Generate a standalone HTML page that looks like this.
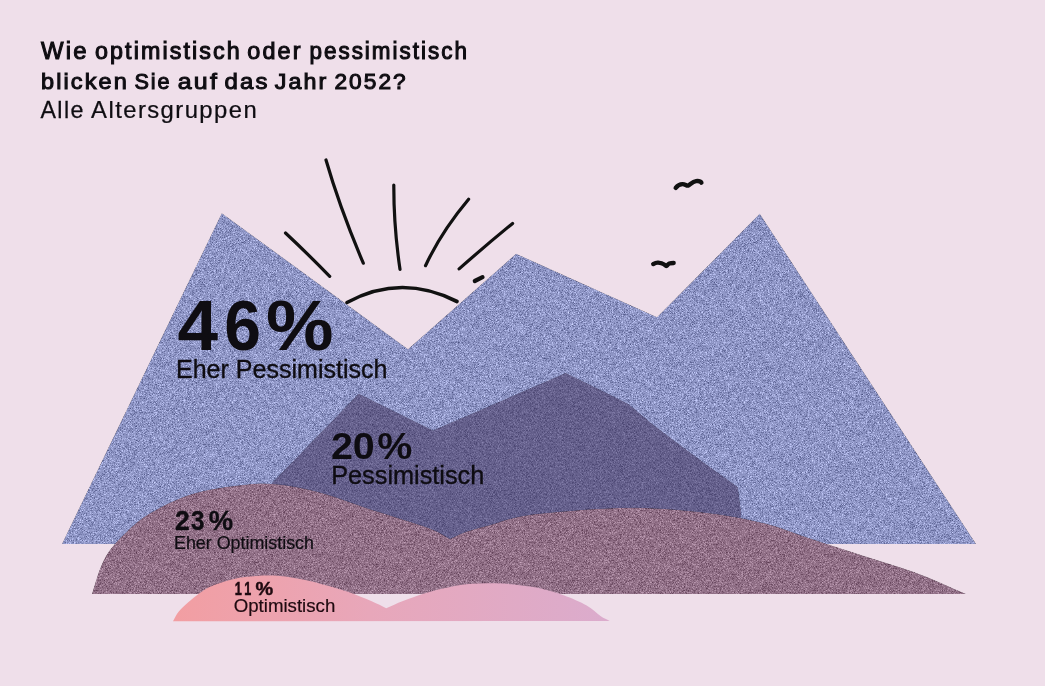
<!DOCTYPE html>
<html><head><meta charset="utf-8">
<style>
html,body{margin:0;padding:0;background:#efdfea;width:1045px;height:686px;overflow:hidden;}
svg{display:block;position:absolute;left:0;top:0;}
text{font-family:"Liberation Sans",sans-serif;}
</style></head>
<body>
<svg width="1045" height="686" viewBox="0 0 1045 686">
<defs>
<filter id="nz" x="0" y="0" width="1045" height="686" filterUnits="userSpaceOnUse" color-interpolation-filters="sRGB">
<feTurbulence type="fractalNoise" baseFrequency="2.5" numOctaves="1" seed="7" result="t0"/>
<feGaussianBlur in="t0" stdDeviation="0.6" result="t"/>
<feColorMatrix in="t" type="matrix" values="1 0 0 0 0  1 0 0 0 0  1 0 0 0 0  0 0 0 0 1" result="g"/>
<feComposite in="SourceGraphic" in2="g" operator="arithmetic" k1="0" k2="1" k3="0.8" k4="-0.4" result="c"/>
<feComposite in="c" in2="SourceAlpha" operator="in"/>
</filter>
<filter id="nz2" x="0" y="0" width="1045" height="686" filterUnits="userSpaceOnUse" color-interpolation-filters="sRGB">
<feTurbulence type="fractalNoise" baseFrequency="2.5" numOctaves="1" seed="11" result="t0"/>
<feGaussianBlur in="t0" stdDeviation="0.7" result="t"/>
<feColorMatrix in="t" type="matrix" values="1 0 0 0 0  1 0 0 0 0  1 0 0 0 0  0 0 0 0 1" result="g"/>
<feComposite in="SourceGraphic" in2="g" operator="arithmetic" k1="0" k2="1" k3="0.4" k4="-0.2" result="c"/>
<feComposite in="c" in2="SourceAlpha" operator="in"/>
</filter>
<filter id="nz3" x="0" y="0" width="1045" height="686" filterUnits="userSpaceOnUse" color-interpolation-filters="sRGB">
<feTurbulence type="fractalNoise" baseFrequency="2.5" numOctaves="1" seed="5" result="t0"/>
<feGaussianBlur in="t0" stdDeviation="0.7" result="t"/>
<feColorMatrix in="t" type="matrix" values="1 0 0 0 0  1 0 0 0 0  1 0 0 0 0  0 0 0 0 1" result="g"/>
<feComposite in="SourceGraphic" in2="g" operator="arithmetic" k1="0" k2="1" k3="0.65" k4="-0.325" result="c"/>
<feComposite in="c" in2="SourceAlpha" operator="in"/>
</filter>
<linearGradient id="pk" x1="173" y1="0" x2="610" y2="0" gradientUnits="userSpaceOnUse">
<stop offset="0" stop-color="#f29ea2"/>
<stop offset="0.45" stop-color="#e8a7ba"/>
<stop offset="1" stop-color="#dbaccd"/>
</linearGradient>
</defs>
<rect width="1045" height="686" fill="#efdfea"/>

<!-- sun -->
<g fill="none" stroke="#111" stroke-width="3.2" stroke-linecap="round" stroke-linejoin="round">
<path d="M347 302.5 Q401 273 457 301.5" stroke-width="3.7"/>
<path d="M285.5 233 Q308 254 329.7 276.4"/>
<path d="M326 160 Q339.8 207.8 363.3 263.2"/>
<path d="M393.8 185 Q393.7 226.8 400 269.3"/>
<path d="M468.6 199.3 Q441.4 231.7 425.5 265.7"/>
<path d="M512.6 223.4 Q485 246 459.1 268.9"/>
<path d="M474.8 281 L482.5 277.2" stroke-width="4.2"/>
</g>

<!-- blue mountain -->
<polygon points="62,544 221.8,213.2 408,349.2 516.1,253.8 657,317.2 759.8,213.8 976,544" fill="#8e95c5" filter="url(#nz)"/>
<!-- dark purple mountain -->
<polygon points="272,483 358.7,393.8 433,430.6 565.8,372.9 600,389.8 628.4,404 654.6,425.9 698.4,458.7 737.7,487.1 741,511 741,540 272,540" fill="#65608c" filter="url(#nz2)"/>
<!-- mauve hill -->
<path d="M92.0 594.0 C94.5 586.2 96.6 577.8 99.4 570.7 C102.2 563.6 104.5 558.0 108.9 551.6 C113.4 545.2 119.2 538.8 126.1 532.4 C133.0 526.0 139.1 519.7 150.1 513.3 C161.1 506.9 177.5 498.7 192.2 494.1 C206.9 489.5 224.2 487.1 238.1 485.5 C252.0 483.9 261.9 482.9 275.9 484.2 C289.9 485.4 306.6 488.9 321.9 493.0 C337.2 497.1 352.5 503.5 367.8 508.5 C383.1 513.5 402.8 519.4 413.7 523.0 C424.6 526.6 427.3 527.4 433.4 530.1 C439.4 532.8 444.5 536.0 450.0 539.0 C455.6 536.5 459.5 534.0 466.8 531.5 C474.1 529.0 484.7 526.5 493.6 524.0 C502.5 521.5 509.3 518.4 520.4 516.4 C531.5 514.4 546.4 513.1 560.0 511.8 C573.6 510.5 588.1 509.3 602.1 508.7 C616.1 508.1 630.2 507.6 644.2 508.0 C658.2 508.4 672.3 509.5 686.3 510.8 C700.3 512.1 714.4 513.6 728.4 516.0 C742.4 518.4 757.4 521.4 770.5 525.0 C783.6 528.6 792.2 532.5 807.2 537.5 C822.2 542.5 842.9 549.1 860.8 554.9 C878.7 560.7 896.9 565.8 914.4 572.3 C931.9 578.8 948.8 586.8 966.0 594.0 Z" fill="#917087" filter="url(#nz3)"/>
<!-- pink hill -->
<path d="M173.0 621.3 C174.9 618.1 176.3 614.7 178.8 611.6 C181.3 608.5 184.6 605.5 188.0 602.5 C191.4 599.5 195.7 596.0 199.5 593.3 C203.3 590.6 205.2 588.8 210.9 586.4 C216.6 584.0 226.2 580.7 233.9 579.0 C241.6 577.3 249.2 576.5 256.9 576.0 C264.5 575.5 272.1 575.4 279.8 576.0 C287.5 576.6 295.1 578.0 302.8 579.5 C310.5 581.0 318.2 583.1 325.8 585.2 C333.4 587.3 341.1 589.3 348.7 592.0 C356.3 594.7 365.4 598.6 371.7 601.3 C377.9 604.0 381.4 605.9 386.2 608.2 C391.8 605.8 396.4 603.5 403.0 601.0 C409.6 598.5 418.2 595.3 425.9 593.0 C433.5 590.7 441.2 588.7 448.9 587.2 C456.6 585.7 464.2 584.4 471.9 583.8 C479.5 583.1 487.2 583.1 494.8 583.3 C502.4 583.5 510.1 584.0 517.8 584.9 C525.5 585.8 533.1 586.7 540.8 588.4 C548.4 590.1 556.1 592.4 563.7 595.3 C571.4 598.2 580.6 602.1 586.7 605.6 C592.8 609.1 596.7 613.4 600.5 616.0 C604.3 618.6 606.6 619.3 609.7 621.0 Z" fill="url(#pk)"/>

<!-- birds -->
<g fill="none" stroke="#111" stroke-linecap="round" stroke-linejoin="round">
<path d="M675.7 187.8 C677.5 185.5 679.5 184.2 682.5 184.1 C685 184 686.5 186 688 185.6 C690 184.8 692.5 181.5 696 181.1 C699 180.8 700.8 181.6 701.4 182.6" stroke-width="4.4"/>
<path d="M653.2 264.1 C655 263 656.5 262.5 658.1 262.6 C660.5 262.7 662.5 263.2 664 264.4 C665 265.2 665.8 266 666.3 266 C667 265.8 668 264.2 669.4 263.6 C671 263 672.5 263 673.7 263" stroke-width="4.3"/>
</g>

<g style="opacity:0.999">
<text x="50" y="200" font-size="100" font-weight="normal" letter-spacing="9" fill="#0f0d12" stroke="#0f0d12" stroke-width="4.477" transform="matrix(0.23892 0 0 0.23014 29.115 13.273)">Wie</text>
<text x="50" y="200" font-size="100" font-weight="normal" letter-spacing="9" fill="#0f0d12" stroke="#0f0d12" stroke-width="4.537" transform="matrix(0.23273 0 0 0.23014 83.432 13.273)">optimistisch</text>
<text x="50" y="200" font-size="100" font-weight="normal" letter-spacing="9" fill="#0f0d12" stroke="#0f0d12" stroke-width="4.525" transform="matrix(0.23394 0 0 0.23014 235.667 13.273)">oder</text>
<text x="50" y="200" font-size="100" font-weight="normal" letter-spacing="9" fill="#0f0d12" stroke="#0f0d12" stroke-width="4.622" transform="matrix(0.22424 0 0 0.23014 298.218 13.273)">pessimistisch</text>
<text x="50" y="200" font-size="100" font-weight="normal" letter-spacing="9" fill="#0f0d12" stroke="#0f0d12" stroke-width="4.566" transform="matrix(0.23523 0 0 0.22466 29.192 43.868)">blicken</text>
<text x="50" y="200" font-size="100" font-weight="normal" letter-spacing="9" fill="#0f0d12" stroke="#0f0d12" stroke-width="4.762" transform="matrix(0.21634 0 0 0.22466 123.601 43.868)">Sie</text>
<text x="50" y="200" font-size="100" font-weight="normal" letter-spacing="9" fill="#0f0d12" stroke="#0f0d12" stroke-width="4.427" transform="matrix(0.24967 0 0 0.22466 165.218 43.868)">auf</text>
<text x="50" y="200" font-size="100" font-weight="normal" letter-spacing="9" fill="#0f0d12" stroke="#0f0d12" stroke-width="4.524" transform="matrix(0.23953 0 0 0.22466 212.565 43.868)">das</text>
<text x="50" y="200" font-size="100" font-weight="normal" letter-spacing="9" fill="#0f0d12" stroke="#0f0d12" stroke-width="4.593" transform="matrix(0.23257 0 0 0.22466 263.206 43.868)">Jahr</text>
<text x="50" y="200" font-size="100" font-weight="normal" letter-spacing="9" fill="#0f0d12" stroke="#0f0d12" stroke-width="4.651" transform="matrix(0.22689 0 0 0.22466 323.121 43.868)">2052?</text>
<text x="50" y="200" font-size="100" font-weight="normal" letter-spacing="6" fill="#0f0d12" stroke="#0f0d12" stroke-width="1.063" transform="matrix(0.23222 0 0 0.23836 28.889 70.629)">Alle</text>
<text x="50" y="200" font-size="100" font-weight="normal" letter-spacing="6" fill="#0f0d12" stroke="#0f0d12" stroke-width="1.048" transform="matrix(0.23852 0 0 0.23836 79.174 70.629)">Altersgruppen</text>
<text x="50" y="200" font-size="100" font-weight="bold" fill="#0f0d12" transform="matrix(0.73019 0 0 0.71014 140.930 208.271)">4</text>
<text x="50" y="200" font-size="100" font-weight="bold" fill="#0f0d12" transform="matrix(0.66042 0 0 0.71014 191.338 208.271)">6</text>
<text x="50" y="200" font-size="100" font-weight="bold" fill="#0f0d12" transform="matrix(0.76024 0 0 0.71014 227.907 208.271)">%</text>
<text x="50" y="200" font-size="100" font-weight="normal" fill="#0f0d12" stroke="#0f0d12" stroke-width="1.382" transform="matrix(0.25048 0 0 0.25616 163.472 327.267)">Eher Pessimistisch</text>
<text x="50" y="200" font-size="100" font-weight="bold" fill="#0f0d12" transform="matrix(0.39592 0 0 0.37391 311.316 384.217)">2</text>
<text x="50" y="200" font-size="100" font-weight="bold" fill="#0f0d12" transform="matrix(0.39362 0 0 0.37391 333.045 384.217)">0</text>
<text x="50" y="200" font-size="100" font-weight="bold" fill="#0f0d12" transform="matrix(0.39398 0 0 0.37391 357.519 384.217)">%</text>
<text x="50" y="200" font-size="100" font-weight="normal" fill="#0f0d12" stroke="#0f0d12" stroke-width="1.394" transform="matrix(0.25271 0 0 0.24932 318.593 434.337)">Pessimistisch</text>
<text x="50" y="200" font-size="100" font-weight="bold" fill="#0f0d12" stroke="#0f0d12" stroke-width="1.117" transform="matrix(0.26633 0 0 0.27101 161.585 475.897)">2</text>
<text x="50" y="200" font-size="100" font-weight="bold" fill="#0f0d12" stroke="#0f0d12" stroke-width="1.170" transform="matrix(0.24200 0 0 0.27101 178.816 475.897)">3</text>
<text x="50" y="200" font-size="100" font-weight="bold" fill="#0f0d12" stroke="#0f0d12" stroke-width="1.099" transform="matrix(0.27470 0 0 0.27101 194.941 475.897)">%</text>
<text x="50" y="200" font-size="100" font-weight="normal" fill="#0f0d12" stroke="#0f0d12" stroke-width="1.112" transform="matrix(0.17880 0 0 0.18082 165.029 513.236)">Eher Optimistisch</text>
<text x="50" y="200" font-size="100" font-weight="bold" fill="#1f0a10" stroke="#1f0a10" stroke-width="2.822" transform="matrix(0.12766 0 0 0.19130 228.351 556.439)">1</text>
<text x="50" y="200" font-size="100" font-weight="bold" fill="#1f0a10" stroke="#1f0a10" stroke-width="2.841" transform="matrix(0.12553 0 0 0.19130 238.070 556.439)">1</text>
<text x="50" y="200" font-size="100" font-weight="bold" fill="#1f0a10" stroke="#1f0a10" stroke-width="2.307" transform="matrix(0.19880 0 0 0.19130 245.564 556.439)">%</text>
<text x="50" y="200" font-size="100" font-weight="normal" fill="#1f0a10" stroke="#1f0a10" stroke-width="1.084" transform="matrix(0.18668 0 0 0.18219 224.333 576.062)">Optimistisch</text>
</g>
</svg>
</body></html>
